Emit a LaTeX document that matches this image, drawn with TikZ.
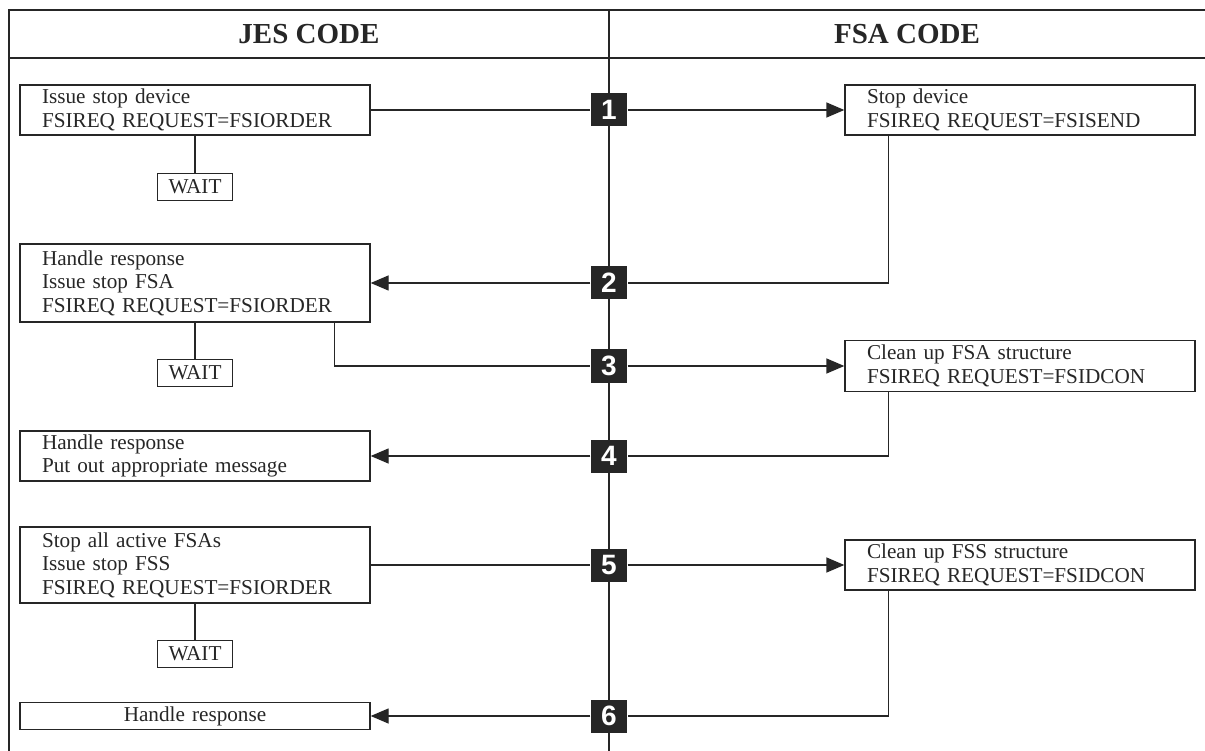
\documentclass[tikz,border=0pt]{standalone}
\usepackage{fontspec}
\setmainfont{Liberation Serif}
\newfontfamily\numfont{Liberation Sans}
\usetikzlibrary{positioning,arrows.meta}
\tikzset{
codebox/.style={
  draw,
  rectangle,
  minimum width=350pt,
  text width=306pt,
  inner xsep=22pt,
  inner ysep=2pt,
  align=left,
  font=\fontsize{21.2}{23.5}\selectfont
  },
waitbox/.style={
  draw,
  rectangle,
  minimum width=75pt,
  minimum height=27pt,
  inner sep=0pt,
  font=\fontsize{21.2}{23.5}\selectfont
  },
stepnum/.style={
  fill=black!85,
  text=white,
  minimum width=36pt,
  minimum height=33pt,
  inner sep=0pt,
  font=\numfont\bfseries\fontsize{28}{28}\selectfont
  },
colhead/.style={
  font=\bfseries\fontsize{29}{34}\selectfont
  }
}

\begin{document}
\begin{tikzpicture}[>={Triangle[length=18pt,width=15pt]}, x=1pt, y=-1pt, line width=1.3pt, color=black!85]
\useasboundingbox (0,0) rectangle (1205,751);

\draw (9,751) -- (9,10) -- (1205,10);
\draw (9,58) -- (1205,58);
\draw (609,10) -- (609,751);
\node[colhead] (jeshead) at (309,34) {JES CODE};
\node[colhead] (fsahead) at (907,34) {FSA CODE};

\node[codebox, minimum height=50pt] (jes1) at (195,110)
  {Issue stop device\\FSIREQ REQUEST=FSIORDER};
\node[waitbox, below=37pt of jes1] (wait1) {WAIT};
\node[codebox, minimum height=50pt] (fsa1) at (1020,110)
  {Stop device\\FSIREQ REQUEST=FSISEND};

\node[codebox, minimum height=78pt] (jes2) at (195,283)
  {Handle response\\Issue stop FSA\\FSIREQ REQUEST=FSIORDER};
\node[waitbox, below=36pt of jes2] (wait2) {WAIT};
\node[codebox, minimum height=51pt] (fsa2) at (1020,366)
  {Clean up FSA structure\\FSIREQ REQUEST=FSIDCON};

\node[codebox, minimum height=50pt] (jes3) at (195,456)
  {Handle response\\Put out appropriate message};

\node[codebox, minimum height=76pt] (jes4) at (195,565)
  {Stop all active FSAs\\Issue stop FSS\\FSIREQ REQUEST=FSIORDER};
\node[waitbox, below=36pt of jes4] (wait3) {WAIT};
\node[codebox, minimum height=50pt] (fsa3) at (1020,565)
  {Clean up FSS structure\\FSIREQ REQUEST=FSIDCON};

\node[codebox, align=center, minimum height=27pt] (jes5) at (195,716)
  {Handle response};

\node[stepnum] (s1) at (609,110) {1};
\node[stepnum] (s2) at (609,283) {2};
\node[stepnum] (s3) at (609,366) {3};
\node[stepnum] (s4) at (609,456) {4};
\node[stepnum] (s5) at (609,565) {5};
\node[stepnum] (s6) at (609,716) {6};

\draw (jes1) -- (wait1);
\draw (jes2) -- (wait2);
\draw (jes4) -- (wait3);

\draw[->] (jes1.east) -- (s1) -- (fsa1.west);
\draw[->] ([xshift=44pt]fsa1.south west) |- (s2) -- (jes2.east);
\draw[->] ([xshift=-36pt]jes2.south east) |- (s3) -- (fsa2.west);
\draw[->] ([xshift=44pt]fsa2.south west) |- (s4) -- (jes3.east);
\draw[->] (jes4.east) -- (s5) -- (fsa3.west);
\draw[->] ([xshift=44pt]fsa3.south west) |- (s6) -- (jes5.east);
\end{tikzpicture}
\end{document}
